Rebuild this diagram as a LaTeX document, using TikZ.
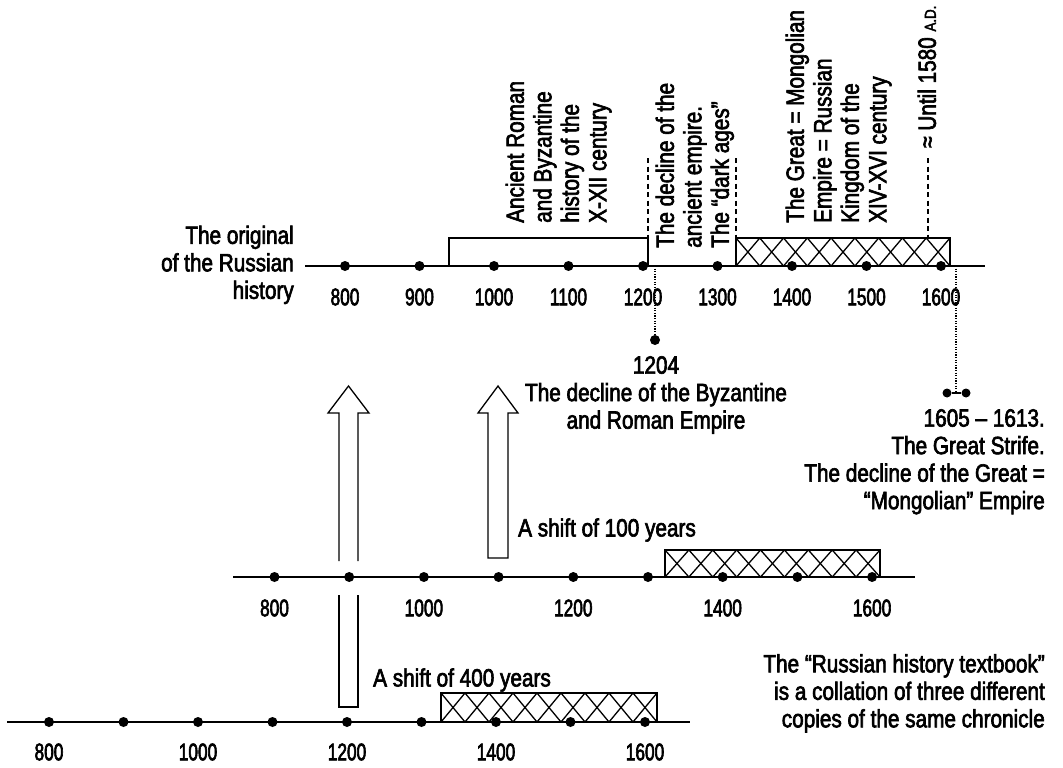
\documentclass[tikz,border=0pt]{standalone}
\usepackage{fontspec}
\setmainfont{Liberation Sans}[FakeStretch=0.83, FakeBold=2.5]
\newfontfamily\numfont{Liberation Sans}[FakeStretch=0.72, FakeBold=2.5]
\newcommand\txtfont{\fontsize{25}{27.5}\selectfont}
\newcommand\hatchrect[4]{% x0, ytop, x1, ybottom
  \pgfmathsetmacro\hw{(#3-#1)/9}
  \foreach \i in {0,...,8}{
    \draw[hatchline] ({#1+\i*\hw},#4) -- ({#1+(\i+1)*\hw},#2);
    \draw[hatchline] ({#1+\i*\hw},#2) -- ({#1+(\i+1)*\hw},#4);
  }
  \draw[boxline] (#1,#4) -- (#1,#2) -- (#3,#2) -- (#3,#4);
}
\begin{document}
\begin{tikzpicture}[x=1pt,y=-1pt,
  tl/.style={line width=1.8pt},
  boxline/.style={line width=2pt, line join=miter},
  hatchline/.style={line width=1.3pt},
  arrowline/.style={line width=1.3pt, line join=miter},
  dashline/.style={line width=1.4pt, dash pattern=on 5pt off 3.5pt},
  dotline/.style={line width=1.6pt, dash pattern=on 1.2pt off 1.4pt},
  dotn/.style={circle, fill=black, inner sep=0pt, minimum size=10pt},
  lbl/.style={inner sep=0pt, font=\numfont\fontsize{24}{26}\selectfont},
  txt/.style={inner sep=0pt, font=\txtfont},
]
\useasboundingbox (0,0) rectangle (1063,768);

% ---------- top timeline ----------
\coordinate (topL) at (305,266);
\coordinate (topR) at (985,266);
\draw[tl] (topL) -- (topR);
% empty rectangle
\draw[boxline] (449,266) -- (449,238) -- (648,238) -- (648,266);
% hatched rectangle
\hatchrect{736}{238}{950}{266}
\foreach \k/\yr in {0/800,1/900,2/1000,3/1100,4/1200,5/1300,6/1400,7/1500,8/1600}{
  \node[dotn] (t\k) at ({345+74.5*\k},266) {};
  \node[lbl] (tl\k) at ({345+74.5*\k},297) {\yr};
}
% dashed markers
\coordinate (da1) at (648,158); \coordinate (da1b) at (648,238);
\coordinate (da2) at (736,158); \coordinate (da2b) at (736,238);
\coordinate (da3) at (928,158); \coordinate (da3b) at (928,238);
\draw[dashline] (da1) -- (da1b);
\draw[dashline] (da2) -- (da2b);
\draw[dashline] (da3) -- (da3b);

% rotated texts
\node[txt, rotate=90, align=left, anchor=north west] (anc) at (505.5,223)
  {Ancient Roman\\and Byzantine\\history of the\\X-XII century};
\node[txt, rotate=90, align=left, anchor=north west] (dec) at (655.5,248)
  {The decline of the\\ancient empire.\\The “dark ages”};
\node[txt, rotate=90, align=left, anchor=north west] (great) at (785.5,223)
  {The Great = Mongolian\\Empire = Russian\\Kingdom of the\\XIV-XVI century};
\node[txt, rotate=90, align=left, anchor=north west] (until) at (917.5,148)
  {≈ Until 1580 {\fontsize{16}{18}\selectfont A.D.}};

\node[txt, align=right, anchor=north east] (orig) at (294,225.5)
  {The original\\of the Russian\\history};

% 1204
\coordinate (p1204) at (655,266);
\node[dotn] (d1204) at (655,340) {};
\draw[dotline] (p1204) -- (d1204);
\node[txt, align=center, anchor=north] (byz) at (656,356)
  {1204\\The decline of the Byzantine\\and Roman Empire};

% 1605-1613
\coordinate (p1605) at (956,266);
\node[dotn, minimum size=9pt] (s1) at (947,393) {};
\node[dotn, minimum size=9pt] (s2) at (966,393) {};
\coordinate (s12) at (956,393);
\draw[tl] (s1) -- (s2);
\draw[dotline] (p1605) -- (s12);
\node[txt, align=right, anchor=north east] (strife) at (1045,409)
  {1605 – 1613.\\The Great Strife.\\The decline of the Great =\\“Mongolian” Empire};

% ---------- middle timeline ----------
\coordinate (midL) at (233,577);
\coordinate (midR) at (915,577);
\draw[tl] (midL) -- (midR);
\hatchrect{665}{550}{880}{577}
\foreach \k in {0,...,8}{
  \node[dotn] (m\k) at ({274.5+74.7*\k},577) {};
}
\foreach \k/\yr in {0/800,2/1000,4/1200,6/1400,8/1600}{
  \node[lbl] (ml\k) at ({274.5+74.7*\k},608) {\yr};
}
\node[txt, anchor=west] (s100) at (518,530) {A shift of 100 years};

% ---------- bottom timeline ----------
\coordinate (botL) at (7,722);
\coordinate (botR) at (690,722);
\draw[tl] (botL) -- (botR);
\hatchrect{441}{693}{657}{722}
\foreach \k in {0,...,8}{
  \node[dotn] (b\k) at ({49+74.5*\k},722) {};
}
\foreach \k/\yr in {0/800,2/1000,4/1200,6/1400,8/1600}{
  \node[lbl] (bl\k) at ({49+74.5*\k},752) {\yr};
}
\node[txt, anchor=west] (s400) at (373,680) {A shift of 400 years};

% ---------- arrows ----------
\draw[arrowline] (339,561) -- (339,413) -- (328,413) -- (348.5,386) -- (369,413) -- (358,413) -- (358,561);
\draw[arrowline] (339,595) -- (339,707) -- (358,707) -- (358,595);
\draw[arrowline] (488,558) -- (488,413) -- (478,413) -- (498,386) -- (518,413) -- (508,413) -- (508,558) -- cycle;

\node[txt, align=right, anchor=north east] (note) at (1045,654)
  {The “Russian history textbook”\\is a collation of three different\\copies of the same chronicle};
\end{tikzpicture}
\end{document}
